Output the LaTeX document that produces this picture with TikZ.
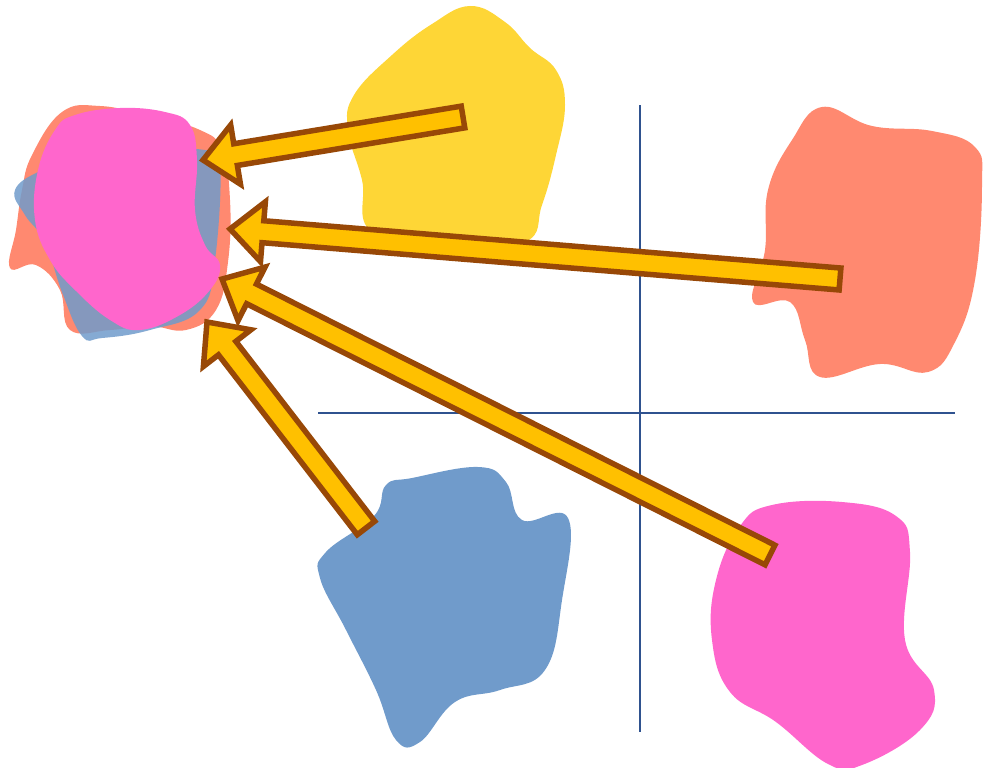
\documentclass[tikz,border=0pt]{standalone}
\usepackage{tikz}
\usetikzlibrary{calc}
\definecolor{blobyellow}{RGB}{254, 214, 54}
\definecolor{blobsalmon}{RGB}{255, 137, 112}
\definecolor{blobblue}{RGB}{112, 155, 203}
\definecolor{blobpink}{RGB}{255, 102, 204}
\definecolor{arrowgold}{RGB}{255, 192, 0}
\definecolor{arrowbrown}{RGB}{152, 72, 7}
\definecolor{axisblue}{RGB}{47, 82, 143}

% block arrow from tail #1 to tip #2
\newcommand{\bigarrow}[2]{%
  \draw[bigarrow] let \p1=($(#2)-(#1)$), \n1={atan2(\y1,\x1)}, \n2={veclen(\x1,\y1)} in
    {[shift={(#1)}, rotate=\n1]
     (0,-11) -- (\n2-33,-11) -- (\n2-33,-30) -- (\n2,0) -- (\n2-33,30) -- (\n2-33,11) -- (0,11) -- cycle};
}

\begin{document}
\begin{tikzpicture}[
  x=1pt, y=-1pt,
  blob/.style={draw=none, smooth cycle, tension=0.7},
  axis/.style={draw=axisblue, line width=1.6pt},
  bigarrow/.style={fill=arrowgold, draw=arrowbrown, line width=5.5pt, line join=miter}
]
\useasboundingbox (0,0) rectangle (983,768);

% blobs
\fill[blobyellow] plot[blob] coordinates {(470,6) (505,22) (530,48) (556,70) (565,105) (556,155) (542,205) (525,242) (450,246) (372,232) (362,180) (348,130) (354,95) (392,55) (432,24)};
\fill[blobsalmon] plot[blob] coordinates {(822,107) (872,126) (932,131) (975,147) (982,185) (975,280) (955,342) (928,372) (880,364) (820,377) (805,340) (790,302) (753,302) (765,250) (768,190) (792,140)};
\fill[blobblue] plot[blob] coordinates {(412,478) (478,467) (506,482) (522,520) (568,518) (562,600) (545,670) (500,690) (455,702) (420,742) (396,740) (376,690) (346,630) (320,578) (326,552) (374,516) (386,485)};
\fill[blobpink] plot[blob] coordinates {(772,505) (842,502) (896,516) (910,552) (905,640) (934,690) (920,730) (862,765) (828,764) (776,722) (730,692) (712,640) (716,580) (740,526)};

% gathered blobs
\fill[blobsalmon] plot[blob] coordinates {(62,112) (100,106) (150,116) (200,130) (222,150) (230,200) (228,262) (216,310) (186,330) (150,326) (110,330) (70,330) (60,290) (36,265) (10,268) (16,230) (22,190) (32,155)};
\fill[blobblue, opacity=0.85] plot[blob] coordinates {(15,190) (42,170) (90,152) (150,150) (205,150) (220,162) (215,260) (200,310) (150,330) (102,338) (82,336) (62,292) (45,242) (25,215)};
\fill[blobpink] plot[blob] coordinates {(75,115) (120,108) (165,112) (190,125) (197,160) (195,210) (205,245) (220,265) (210,290) (180,315) (140,330) (110,320) (75,290) (50,260) (35,220) (38,170) (55,130)};

% quadrant axes
\coordinate (vtop) at (640,105);
\coordinate (vbot) at (640,732);
\coordinate (hleft) at (318,413);
\coordinate (hright) at (955,413);
\draw[axis] (vtop) -- (vbot);
\draw[axis] (hleft) -- (hright);

% arrows
\coordinate (yellowtail) at (463,117);
\coordinate (yellowtip) at (203,160);
\coordinate (salmontail) at (840,279);
\coordinate (salmontip) at (230,229);
\coordinate (pinktail) at (770,555);
\coordinate (pinktip) at (222,279);
\coordinate (bluetail) at (366,528);
\coordinate (bluetip) at (207,322);
\bigarrow{yellowtail}{yellowtip}
\bigarrow{salmontail}{salmontip}
\bigarrow{pinktail}{pinktip}
\bigarrow{bluetail}{bluetip}
\end{tikzpicture}
\end{document}
